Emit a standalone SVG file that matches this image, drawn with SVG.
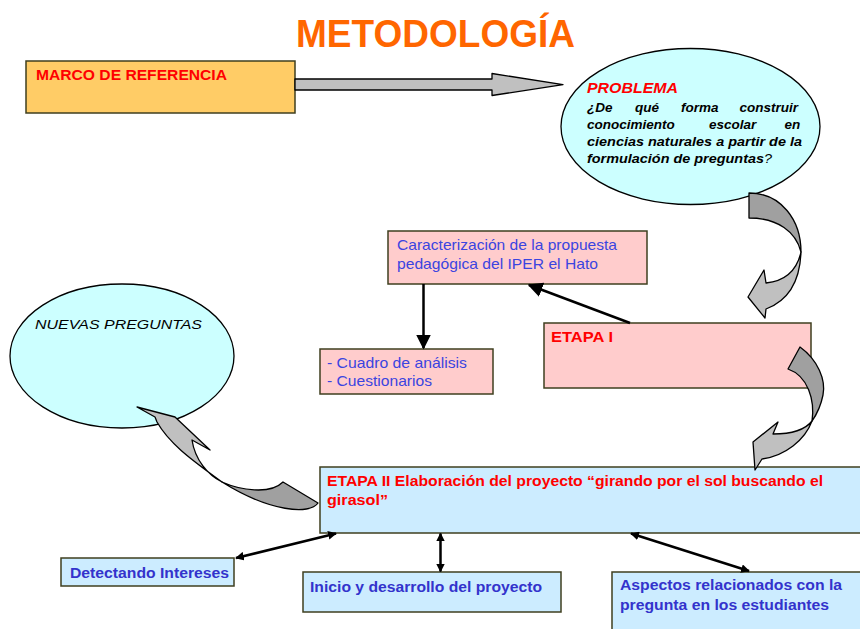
<svg xmlns="http://www.w3.org/2000/svg" width="860" height="629" viewBox="0 0 860 629">
<defs>
<style>
.box{stroke:#3f3f1f;stroke-width:1.5}
.pink{fill:#FFCCCC}
.blue{fill:#CCECFF}
.ell{fill:#CCFFFF;stroke:#000;stroke-width:1.3}
.t{font-family:"Liberation Sans",Arial,sans-serif}
.red{fill:#FF0000;font-weight:bold}
.bl{fill:#3B44E0;font-size:14.5px}
.blb{fill:#3333CC;font-weight:bold;font-size:14px}
.prob{font-weight:bold;font-style:italic;font-size:13.5px;fill:#000}
.grey{stroke:#000;stroke-width:1.3;stroke-linejoin:round}
.conn{stroke:#000;fill:none}
</style>
<marker id="big" viewBox="0 0 10 10" refX="9" refY="5" markerWidth="6" markerHeight="6" orient="auto" markerUnits="strokeWidth"><path d="M0,0 L10,5 L0,10 Z" fill="#000"/></marker>
<marker id="sm" viewBox="0 0 10 10" refX="9" refY="5" markerWidth="3.5" markerHeight="3.5" orient="auto-start-reverse" markerUnits="strokeWidth"><path d="M0,0 L10,5 L0,10 Z" fill="#000"/></marker>
</defs>
<rect width="860" height="629" fill="#fff"/>

<text class="t" x="296" y="47" font-size="38" font-weight="bold" fill="#FF6600" textLength="279" lengthAdjust="spacingAndGlyphs">METODOLOGÍA</text>

<g id="marco">
<rect x="26" y="61" width="269" height="52" fill="#FFCC66" class="box"/>
<text class="t red" x="36" y="80" font-size="15" textLength="191" lengthAdjust="spacingAndGlyphs">MARCO DE REFERENCIA</text>
</g>

<g id="problema">
<ellipse cx="690.5" cy="126.5" rx="129.5" ry="78" class="ell"/>
<text class="t red" x="587" y="93" font-size="14" font-style="italic" textLength="91" lengthAdjust="spacingAndGlyphs">PROBLEMA</text>
<text class="t prob" y="111.5"><tspan x="587">¿De</tspan><tspan x="635">qué</tspan><tspan x="681">forma</tspan><tspan x="739.5">construir</tspan></text>
<text class="t prob" y="128.5"><tspan x="587">conocimiento</tspan><tspan x="709">escolar</tspan><tspan x="784.5">en</tspan></text>
<text class="t prob" x="587" y="146" textLength="215" lengthAdjust="spacingAndGlyphs">ciencias naturales a partir de la</text>
<text class="t prob" x="587" y="163" textLength="185" lengthAdjust="spacingAndGlyphs">formulación de preguntas<tspan font-weight="normal">?</tspan></text>
</g>

<g id="caracterizacion">
<rect x="388" y="231" width="259" height="53" class="box pink"/>
<text class="t bl" x="397" y="249.5" textLength="220" lengthAdjust="spacingAndGlyphs">Caracterización de la propuesta</text>
<text class="t bl" x="397" y="268.5" textLength="201" lengthAdjust="spacingAndGlyphs">pedagógica del IPER el Hato</text>
</g>

<g id="cuadro">
<rect x="320" y="349" width="173" height="45" class="box pink"/>
<text class="t bl" x="327" y="368" textLength="140" lengthAdjust="spacingAndGlyphs">- Cuadro de análisis</text>
<text class="t bl" x="327" y="386" textLength="105" lengthAdjust="spacingAndGlyphs">- Cuestionarios</text>
</g>

<g id="etapa1">
<rect x="544" y="323" width="267" height="65" class="box pink"/>
<text class="t red" x="551" y="342" font-size="14" textLength="62" lengthAdjust="spacingAndGlyphs">ETAPA I</text>
</g>

<g id="nuevas">
<ellipse cx="122" cy="356" rx="112" ry="72" class="ell"/>
<text class="t" x="35" y="329" font-size="13.5" font-style="italic" fill="#000" textLength="167" lengthAdjust="spacingAndGlyphs">NUEVAS PREGUNTAS</text>
</g>

<g id="etapa2">
<rect x="320" y="467" width="550" height="66" class="box blue"/>
<text class="t red" x="327" y="486" font-size="14.5" textLength="496" lengthAdjust="spacingAndGlyphs">ETAPA II Elaboración del proyecto “girando por el sol buscando el</text>
<text class="t red" x="327" y="505" font-size="14.5" textLength="61" lengthAdjust="spacingAndGlyphs">girasol”</text>
</g>

<g id="detectando">
<rect x="61" y="558" width="173" height="28" class="box blue"/>
<text class="t blb" x="70" y="578" textLength="159" lengthAdjust="spacingAndGlyphs">Detectando Intereses</text>
</g>

<g id="inicio">
<rect x="303" y="572" width="258" height="40" class="box blue"/>
<text class="t blb" x="310" y="592" textLength="232" lengthAdjust="spacingAndGlyphs">Inicio y desarrollo del proyecto</text>
</g>

<g id="aspectos">
<rect x="612" y="572" width="260" height="70" class="box blue"/>
<text class="t blb" x="620" y="590" textLength="222" lengthAdjust="spacingAndGlyphs">Aspectos relacionados con la</text>
<text class="t blb" x="620" y="610" textLength="209" lengthAdjust="spacingAndGlyphs">pregunta en los estudiantes</text>
</g>

<g id="connectors">
<path class="grey" fill="#C0C0C0" d="M295,79 L492,79 L492,73.5 L563,84.6 L492,95.5 L492,90 L295,90 Z"/>
<!-- curved arrow 1 -->
<path class="grey" fill="#A0A0A0" d="M749,193 C781,193 801,220 801,252 C796,232 778,218 749,218 Z"/>
<path class="grey" fill="#C0C0C0" d="M801,252 C800,280 790,300 766,309 L765,318 L748,297 L764,270 L766,283 C785,281 797,270 801,252 Z"/>
<!-- curved arrow 2 -->
<path class="grey" fill="#A0A0A0" d="M800,347 C818,360 826,380 823,395 C821,405 817,414 812,421 C815,400 808,376 788,369 Z"/>
<path class="grey" fill="#C0C0C0" d="M812,421 C805,430 790,434 773,434 L778,422 L753,442 L755,470 L762,459 C785,456 805,440 812,421 Z"/>
<!-- curved arrow 3 -->
<path class="grey" fill="#A0A0A0" d="M222,482 C240,490 270,495 283,482 L318,503 C310,515 270,512 222,482 Z"/>
<path class="grey" fill="#C0C0C0" d="M222,482 C195,462 170,445 157,422 L155,417 L137,407 L175,417 L210,450 L192,440 C195,460 208,475 222,482 Z"/>

<line class="conn" x1="423.5" y1="284" x2="423.5" y2="348" stroke-width="2.5" marker-end="url(#big)"/>
<line class="conn" x1="630" y1="323" x2="529" y2="285" stroke-width="2.5" marker-end="url(#big)"/>
<line class="conn" x1="336" y1="533.5" x2="236" y2="558" stroke-width="2.5" marker-start="url(#sm)" marker-end="url(#sm)"/>
<line class="conn" x1="440.5" y1="533.5" x2="440.5" y2="571.5" stroke-width="2.5" marker-start="url(#sm)" marker-end="url(#sm)"/>
<line class="conn" x1="631" y1="533.5" x2="749" y2="571" stroke-width="2.5" marker-start="url(#sm)" marker-end="url(#sm)"/>
</g>
</svg>
